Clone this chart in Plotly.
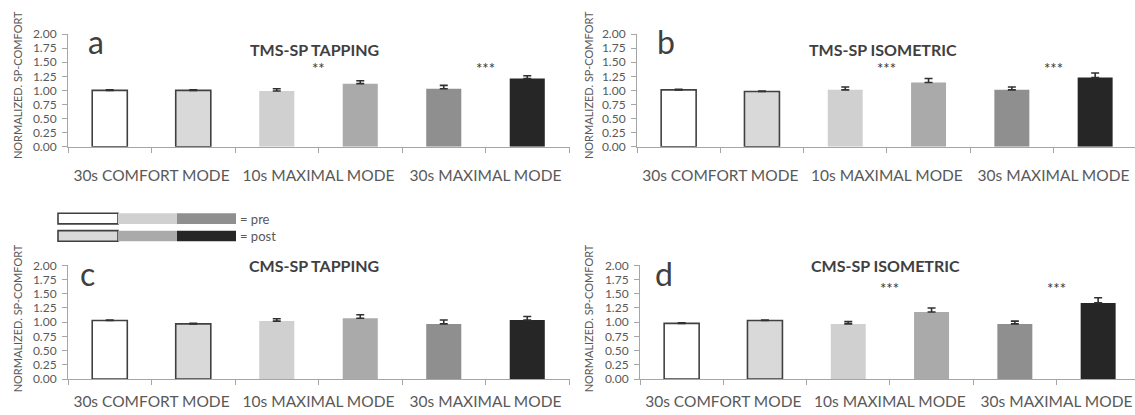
import plotly.graph_objects as go

# ---- data ----
bar_keys = ["comfort_pre", "comfort_post", "max10_pre", "max10_post", "max30_pre", "max30_post"]
group_labels = ["30s COMFORT MODE", "10s MAXIMAL MODE", "30s MAXIMAL MODE"]
panel_letters = ["a", "b", "c", "d"]
panel_titles = ["TMS-SP TAPPING", "TMS-SP ISOMETRIC", "CMS-SP TAPPING", "CMS-SP ISOMETRIC"]
y_title = "NORMALIZED. SP-COMFORT"
y_ticks = [0.00, 0.25, 0.50, 0.75, 1.00, 1.25, 1.50, 1.75, 2.00]

a_values = [1.00, 1.00, 0.99, 1.12, 1.03, 1.21]
a_errors = [0.01, 0.01, 0.04, 0.05, 0.06, 0.05]
a_stars = ["", "**", "***"]

b_values = [1.01, 0.98, 1.01, 1.14, 1.01, 1.23]
b_errors = [0.01, 0.01, 0.05, 0.07, 0.05, 0.08]
b_stars = ["", "***", "***"]

c_values = [1.03, 0.97, 1.02, 1.07, 0.97, 1.04]
c_errors = [0.01, 0.01, 0.04, 0.06, 0.07, 0.06]
c_stars = ["", "", ""]

d_values = [0.98, 1.03, 0.97, 1.18, 0.97, 1.34]
d_errors = [0.01, 0.01, 0.04, 0.07, 0.05, 0.09]
d_stars = ["", "***", "***"]

legend_rows = ["= pre", "= post"]

# ---- style ----
W, H = 1135, 415
FONT = "Lato, Open Sans, sans-serif"
TXT = "#595959"
DARK = "#404040"
AXC = "#a6a6a6"
bar_colors = ["#ffffff", "#d9d9d9", "#d0d0d0", "#aaaaaa", "#8f8f8f", "#262626"]
bar_line_w = [1.6, 1.6, 0, 0, 0, 0]
pre_colors = [bar_colors[0], bar_colors[2], bar_colors[4]]
post_colors = [bar_colors[1], bar_colors[3], bar_colors[5]]

def px_x(p):
    return p / W

def px_y(p):
    return 1 - p / H

# panel geometry in pixels: (left, right, y_of_zero, y_of_two, slot_px)
geom = [
    (68, 570, 144, 27, 83.5),
    (637, 1135, 144, 27, 83.3),
    (68, 570, 385, 267, 83.5),
    (640, 1135, 385, 267, 83.3),
]
values = [a_values, b_values, c_values, d_values]
errors = [a_errors, b_errors, c_errors, d_errors]
stars = [a_stars, b_stars, c_stars, d_stars]
star_y = [1.40, 1.40, 1.61, 1.61]
title_y = [1.72, 1.72, 1.99, 1.99]
letter_x = [-0.28, -0.28, -0.38, -0.34]
ytitle_x = [17, 588, 17, 588]
ytitle_yc = [80, 80, 322, 322]
label_standoff = [10, 10, 3, 3]

fig = go.Figure()
xpos = list(range(len(bar_keys)))
annotations = []
shapes = []
layout_axes = {}

for i in range(4):
    left, right, y0, y2, slot = geom[i]
    sfx = "" if i == 0 else str(i + 1)
    xa, ya = "x" + sfx, "y" + sfx
    fig.add_trace(go.Bar(
        x=xpos, y=values[i], xaxis=xa, yaxis=ya, width=0.42,
        marker=dict(color=bar_colors, line=dict(color=DARK, width=bar_line_w)),
        error_y=dict(type="data", array=errors[i], arrayminus=[0] * 6, symmetric=False,
                     color="#303030", thickness=1.6, width=4),
        showlegend=False, hoverinfo="skip",
    ))
    xmax = -0.5 + (right - left) / slot
    layout_axes["xaxis" + sfx] = dict(
        domain=[px_x(left), px_x(right)], range=[-0.5, xmax], anchor=ya,
        tickmode="array", tickvals=[0.5, 2.5, 4.5], ticktext=group_labels,
        ticks="outside", ticklen=5, tickcolor=AXC, tickwidth=1,
        minor=dict(tickmode="linear", tick0=-0.5, dtick=1, ticks="outside", ticklen=5,
                   tickcolor=AXC, tickwidth=1, showgrid=False),
        showline=True, linecolor=AXC, linewidth=1, showgrid=False, zeroline=False,
        tickfont=dict(family=FONT, size=15.5, color=TXT), ticklabelstandoff=label_standoff[i],
        fixedrange=True,
    )
    layout_axes["yaxis" + sfx] = dict(
        domain=[px_y(y0), px_y(y2)], range=[0, 2], anchor=xa,
        tickmode="array", tickvals=y_ticks, tickformat=".2f",
        ticks="outside", ticklen=5, tickcolor=AXC, tickwidth=1,
        showline=True, linecolor=AXC, linewidth=1, showgrid=False, zeroline=False,
        tickfont=dict(family=FONT, size=12, color=TXT), ticklabelstandoff=3,
        fixedrange=True,
    )
    # title
    annotations.append(dict(xref=xa, yref=ya, x=2.45, y=title_y[i], text="<b>" + panel_titles[i] + "</b>",
                            showarrow=False, font=dict(family=FONT, size=16, color=DARK),
                            xanchor="center", yanchor="middle"))
    # letter
    annotations.append(dict(xref=xa, yref=ya, x=letter_x[i], y=1.86, text=panel_letters[i],
                            showarrow=False, font=dict(family=FONT, size=32, color=DARK),
                            xanchor="left", yanchor="middle"))
    # stars
    for g, s in enumerate(stars[i]):
        if s:
            annotations.append(dict(xref=xa, yref=ya, x=2 * g + 0.5, y=star_y[i], text=s,
                                    showarrow=False, font=dict(family=FONT, size=15, color="#333333"),
                                    xanchor="center", yanchor="middle"))
    # y title
    annotations.append(dict(xref="paper", yref="paper", x=px_x(ytitle_x[i]), y=px_y(ytitle_yc[i]),
                            text=y_title, textangle=-90, showarrow=False,
                            font=dict(family=FONT, size=11, color=TXT),
                            xanchor="center", yanchor="middle"))

# legend boxes
box_x = [58, 118, 177, 236]
rows_y = [(213, 224), (231, 242)]
for r, cols in enumerate([pre_colors, post_colors]):
    ya0, ya1 = rows_y[r]
    for k, col in enumerate(cols):
        lw = 1.6 if k == 0 else 0
        shapes.append(dict(type="rect", xref="paper", yref="paper",
                           x0=px_x(box_x[k]), x1=px_x(box_x[k + 1]),
                           y0=px_y(ya1), y1=px_y(ya0), fillcolor=col,
                           line=dict(color=DARK, width=lw)))
    annotations.append(dict(xref="paper", yref="paper", x=px_x(238), y=px_y((ya0 + ya1) / 2),
                            text=legend_rows[r], showarrow=False,
                            font=dict(family=FONT, size=13, color=TXT),
                            xanchor="left", yanchor="middle"))

fig.update_layout(
    width=W, height=H, autosize=False,
    margin=dict(l=0, r=0, t=0, b=0),
    paper_bgcolor="white", plot_bgcolor="white",
    annotations=annotations, shapes=shapes, bargap=0,
    **layout_axes,
)

fig.write_html("out.html", config={"displayModeBar": False, "staticPlot": True},
               post_script="document.body.style.margin='0';document.body.style.overflow='hidden';")
